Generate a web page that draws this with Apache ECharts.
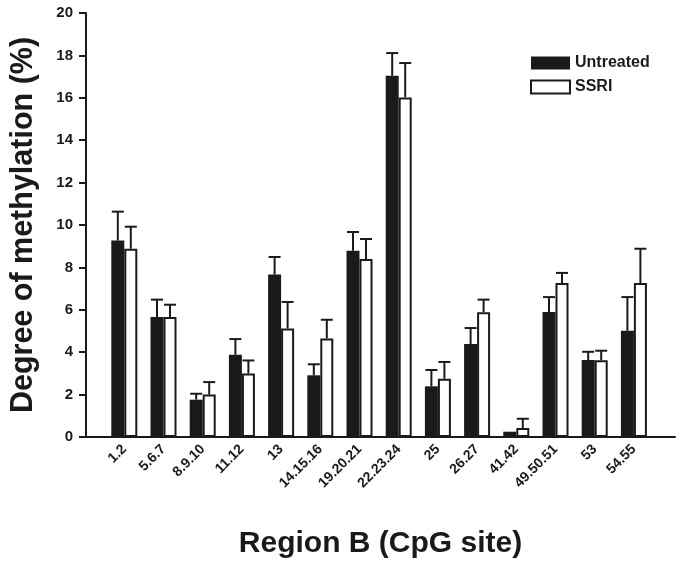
<!DOCTYPE html>
<html>
<head>
<meta charset="utf-8" />
<script src="https://cdn.jsdelivr.net/npm/echarts@6/dist/echarts.min.js"></script>
<style>
  html, body { margin: 0; padding: 0; background: #fff; }
  #chart { width: 682px; height: 566px; }
</style>
</head>
<body>
<div id="chart"></div>
<script>
const sites = ["1.2", "5.6.7", "8.9.10", "11.12", "13", "14.15.16", "19.20.21",
  "22.23.24", "25", "26.27", "41.42", "49.50.51", "53", "54.55"];
const untreated = [9.27, 5.66, 1.76, 3.88, 7.66, 2.91, 8.79, 17.04, 2.39, 4.39, 0.25, 5.9, 3.63, 5.01];
const untreatedSd = [1.36, 0.82, 0.28, 0.74, 0.83, 0.52, 0.88, 1.07, 0.77, 0.75, 0, 0.7, 0.39, 1.59];
const ssri = [8.88, 5.66, 2.0, 2.99, 5.12, 4.65, 8.4, 16.02, 2.75, 5.88, 0.42, 7.26, 3.62, 7.26];
const ssriSd = [1.04, 0.58, 0.59, 0.62, 1.25, 0.88, 0.94, 1.62, 0.79, 0.6, 0.44, 0.48, 0.45, 1.62];
const yTicks = { min: 0, max: 20, interval: 2 };

const FONT = "Liberation Sans, Arial, sans-serif";
const INK = "#1a1a1a";
const BAR_W = 13;

// error bar, drawn upward only, shifted to the bar's side of the group
const errorSeries = (name, means, sds, shift) => ({
  type: "custom",
  name,
  xAxisIndex: 0,
  yAxisIndex: 0,
  z: 5,
  data: means.map((m, i) => [i, m, m + sds[i]]),
  renderItem: (params, api) => {
    const base = api.coord([api.value(0), api.value(1)]);
    const top = api.coord([api.value(0), api.value(2)]);
    if (api.value(2) - api.value(1) <= 0) return;
    const x = base[0] + shift;
    const style = { stroke: INK, lineWidth: 2 };
    return {
      type: "group",
      children: [
        { type: "line", shape: { x1: x, y1: base[1], x2: x, y2: top[1] }, style },
        { type: "line", shape: { x1: x - 6, y1: top[1], x2: x + 6, y2: top[1] }, style },
      ],
    };
  },
});

const option = {
  animation: false,
  backgroundColor: "#fff",
  textStyle: { fontFamily: FONT },
  legend: {
    orient: "vertical",
    left: 525,
    top: 50,
    icon: "rect",
    itemWidth: 39,
    itemHeight: 13,
    itemGap: 8,
    data: ["Untreated", "SSRI"],
    textStyle: { fontFamily: FONT, fontSize: 16, fontWeight: "bold", color: INK, padding: [0, 0, 0, 0] },
  },
  grid: [
    { left: 104.7, width: 548.8, top: 13, bottom: 129 },
    { left: 82, right: 7, top: 13, bottom: 129 },
  ],
  xAxis: [
    {
      gridIndex: 0,
      type: "category",
      data: sites,
      axisLine: { show: false },
      axisTick: { show: false },
      axisLabel: {
        rotate: 45,
        margin: 10,
        interval: 0,
        fontFamily: FONT,
        fontSize: 14,
        fontWeight: "bold",
        color: INK,
      },
    },
    {
      gridIndex: 1,
      type: "value",
      min: 0,
      max: 1,
      axisLine: { lineStyle: { color: INK, width: 2 } },
      axisTick: { show: false },
      axisLabel: { show: false },
      splitLine: { show: false },
      name: "Region B (CpG site)",
      nameLocation: "middle",
      nameGap: 92,
      nameTextStyle: { fontFamily: FONT, fontSize: 30, fontWeight: "bold", color: INK },
    },
  ],
  yAxis: [
    {
      gridIndex: 0,
      type: "value",
      ...yTicks,
      show: false,
      splitLine: { show: false },
    },
    {
      gridIndex: 1,
      type: "value",
      ...yTicks,
      axisLine: { show: true, lineStyle: { color: INK, width: 2 } },
      axisTick: { show: true, length: 7, lineStyle: { color: INK, width: 2 } },
      axisLabel: { fontFamily: FONT, fontSize: 15, fontWeight: "bold", color: INK, margin: 13 },
      splitLine: { show: false },
      name: "Degree of methylation (%)",
      nameLocation: "middle",
      nameGap: 47,
      nameTextStyle: { fontFamily: FONT, fontSize: 30.5, fontWeight: "bold", color: INK },
    },
  ],
  series: [
    {
      name: "Untreated",
      type: "bar",
      data: untreated,
      barWidth: BAR_W,
      barGap: "0%",
      itemStyle: { color: INK, borderColor: INK, borderWidth: 0 },
    },
    {
      name: "SSRI",
      type: "bar",
      data: ssri,
      barWidth: BAR_W,
      barGap: "0%",
      itemStyle: { color: "#fff", borderColor: INK, borderWidth: 2 },
    },
    errorSeries("Untreated err", untreated, untreatedSd, -BAR_W / 2),
    errorSeries("SSRI err", ssri, ssriSd, BAR_W / 2),
  ],
};

const myChart = echarts.init(document.getElementById("chart"));
myChart.setOption(option);
</script>
</body>
</html>
